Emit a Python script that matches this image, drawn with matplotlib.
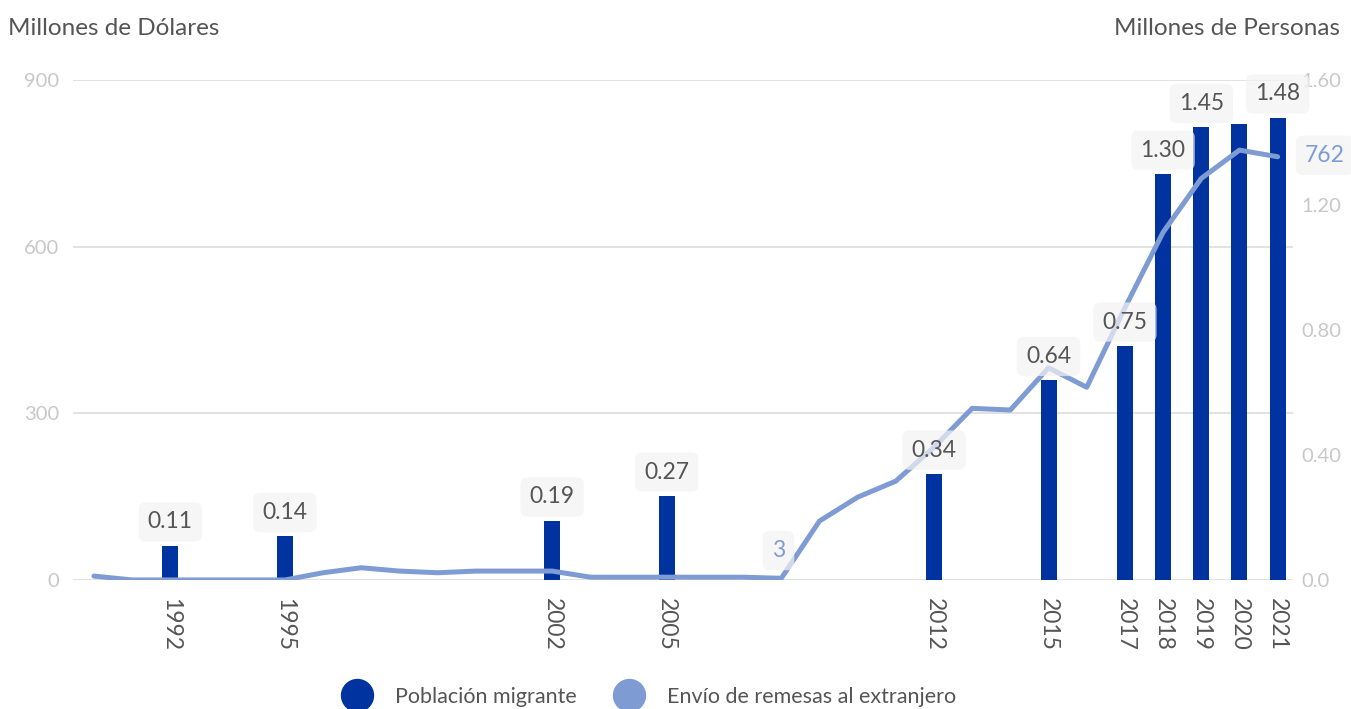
import matplotlib
matplotlib.use("Agg")
import matplotlib.pyplot as plt
from matplotlib.lines import Line2D

plt.rcParams['font.family'] = ['Lato', 'DejaVu Sans']

# datos
anios_bar = [1992, 1995, 2002, 2005, 2012, 2015, 2017, 2018, 2019, 2020, 2021]
poblacion = [0.11, 0.14, 0.19, 0.27, 0.34, 0.64, 0.75, 1.30, 1.45, 1.46, 1.48]
etiquetas_bar = ['0.11', '0.14', '0.19', '0.27', '0.34', '0.64', '0.75', '1.30', '1.45', '', '1.48']

anios_linea = list(range(1990, 2022))
remesas = [7, 0, 0, 0, 0, 0, 13, 22, 16, 13, 16, 16, 16, 5, 5, 5, 5, 5, 3,
           106, 149, 178, 239, 309, 306, 382, 347, 490, 626, 723, 774, 762]

ticks_izq = [0, 300, 600, 900]
ticks_der = [0.0, 0.4, 0.8, 1.2, 1.6]
ticks_der_txt = ['0.0', '0.40', '0.80', '1.20', '1.60']

AZUL = '#0033a0'
AZUL_CLARO = '#7f9bd4'
GRIS_TXT = '#555555'
GRIS_TICK = '#c8c8c8'
GRIS_GRID = '#dddddd'

fig = plt.figure(figsize=(13.51, 7.09), dpi=100)
ax = fig.add_axes([0.054, 0.182, 0.903, 0.705])
ax.set_xlim(1989.45, 2021.4)
ax.set_ylim(0, 900)
ax.set_yticks(ticks_izq)
ax.grid(axis='y', color=GRIS_GRID, linewidth=1.2)
ax.set_axisbelow(True)
for s in ax.spines.values():
    s.set_visible(False)
ax.tick_params(axis='y', length=0, labelsize=14.5, labelcolor=GRIS_TICK, pad=10)
ax.set_xticks(anios_bar)
ax.set_xticklabels([str(a) for a in anios_bar], rotation=-90)
ax.tick_params(axis='x', length=0, labelsize=16.5, labelcolor=GRIS_TXT, pad=13)

# barras (eje derecho)
axb = ax.twinx()
axb.set_ylim(0, 1.6)
axb.set_yticks(ticks_der)
axb.set_yticklabels(ticks_der_txt)
axb.tick_params(axis='y', length=0, labelsize=14.5, labelcolor=GRIS_TICK, pad=6)
for s in axb.spines.values():
    s.set_visible(False)
axb.bar(anios_bar, poblacion, width=0.42, color=AZUL, zorder=2)

# linea (eje izquierdo)
axl = ax.twinx()
axl.set_ylim(0, 900)
axl.set_yticks([])
for s in axl.spines.values():
    s.set_visible(False)
axl.plot(anios_linea, remesas, color=AZUL_CLARO, linewidth=3.6, solid_capstyle='round', zorder=3)


def caja():
    return dict(boxstyle='round,pad=0.4,rounding_size=0.3', facecolor='#f3f3f3',
                edgecolor='none', alpha=0.7)


# etiquetas de barras encima de la linea
for x, v, t in zip(anios_bar, poblacion, etiquetas_bar):
    if not t:
        continue
    axl.annotate(t, xy=(x, v * 900 / 1.6), xytext=(0, 17), textcoords='offset points',
                 ha='center', va='center', fontsize=16.5, color=GRIS_TXT, bbox=caja(), zorder=5)

# etiquetas de la linea
i3 = anios_linea.index(2008)
axl.annotate('3', xy=(2008, remesas[i3]), xytext=(-2, 20), textcoords='offset points',
             ha='center', va='center', fontsize=16.5, color=AZUL_CLARO, bbox=caja(), zorder=5)
axl.annotate('762', xy=(2021, remesas[-1]), xytext=(34, 1), textcoords='offset points',
             ha='center', va='center', fontsize=16.5, color=AZUL_CLARO, bbox=caja(), zorder=5,
             annotation_clip=False)

# titulos de ejes
fig.text(0.006, 0.96, 'Millones de Dólares', fontsize=17.5, color=GRIS_TXT, ha='left', va='center')
fig.text(0.992, 0.96, 'Millones de Personas', fontsize=17.5, color=GRIS_TXT, ha='right', va='center')

# leyenda
handles = [Line2D([], [], linestyle='none', marker='o', markersize=23, color=AZUL),
           Line2D([], [], linestyle='none', marker='o', markersize=23, color=AZUL_CLARO)]
fig.legend(handles, ['Población migrante', 'Envío de remesas al extranjero'],
           loc='center', bbox_to_anchor=(0.478, 0.017), ncol=2, frameon=False,
           fontsize=15.5, labelcolor=GRIS_TXT, handletextpad=0.8, columnspacing=1.4)

fig.savefig('out.png', dpi=100)
